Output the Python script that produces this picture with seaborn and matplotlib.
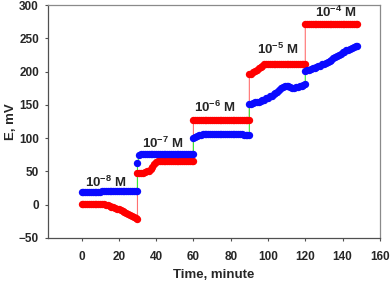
import numpy as np
import pandas as pd
import matplotlib
matplotlib.use("Agg")
import matplotlib.pyplot as plt
import seaborn as sns

# time grid (minutes) for each concentration step
t_1 = list(range(0, 31))
t_2 = list(range(30, 61))
t_3 = list(range(60, 91))
t_4 = list(range(90, 121))
t_5 = list(range(120, 149))

# red electrode
red_1 = [1, 1, 1, 1, 1, 1, 1, 1, 1, 1, 1, 1, 1, 0, -1, -2, -3, -4, -5, -6,
         -7, -8, -10, -11, -13, -14, -16, -17, -19, -20, -22]
red_2 = [47, 47, 48, 48, 49, 50, 51, 54, 57, 61, 64, 65, 66, 66, 66, 66, 66,
         66, 66, 66, 66, 66, 66, 66, 66, 66, 66, 66, 65.5, 65.5, 65]
red_3 = [127, 127, 127, 127, 127, 127, 127, 127, 127, 127, 127, 127, 127, 127,
         127, 127, 127, 127, 127, 127, 127, 127, 127, 127, 127, 127, 127, 127,
         127, 127, 127]
red_4 = [196, 197, 199, 201, 203, 205, 207, 209, 211, 212, 212, 212, 212, 212,
         212, 212, 212, 212, 212, 212, 212, 212, 212, 212, 212, 212, 212, 212,
         212, 212, 212]
red_5 = [271, 271, 271, 271, 271, 271, 271, 271, 271, 271, 271, 271, 271, 271,
         271, 271, 271, 271, 271, 271, 271, 271, 271, 271, 271, 271, 271, 271,
         271]

# blue electrode
blue_1 = [19, 19, 19, 19, 19, 19, 19, 19.5, 19.5, 19.5, 19.5, 20, 20, 20, 20,
          20, 20, 20, 20, 20, 20, 20.5, 20.5, 20.5, 20.5, 20.5, 21, 21, 21, 21, 21]
blue_2 = [62, 74, 76, 76, 76, 76, 76, 76, 76, 76, 76, 76, 76, 76, 76, 76, 76,
          76, 76, 76, 76, 76, 76, 76, 76, 76, 76, 76, 76.5, 76.5, 76.5]
blue_3 = [100, 102, 104, 105, 105.5, 106, 106, 106, 106, 106, 106, 106, 106,
          106, 106, 106, 106, 106, 106, 106, 106, 106, 106, 106, 106, 106, 106,
          105.5, 105.5, 105.5, 105.5]
blue_4 = [151, 152, 153, 154, 155, 155, 156, 157, 158, 160, 161, 163, 164, 166,
          168, 170, 172, 175, 177, 179, 179, 178, 177, 176, 176, 177, 177, 178,
          179, 180, 181]
blue_5 = [201, 202, 203, 204, 205, 206, 207, 208, 209, 211, 212, 213, 215, 216,
          218, 220, 222, 224, 225, 227, 229, 230, 232, 233, 234, 236, 237, 238,
          239]

conc_labels = ["-8", "-7", "-6", "-5", "-4"]
label_t = [13, 43.5, 71.5, 105, 136.5]
label_e = [33, 92, 147, 233, 289]

time = t_1 + t_2 + t_3 + t_4 + t_5
df = pd.DataFrame({
    "Time": time * 2,
    "E": red_1 + red_2 + red_3 + red_4 + red_5 + blue_1 + blue_2 + blue_3 + blue_4 + blue_5,
    "Electrode": ["red"] * len(time) + ["blue"] * len(time),
})

sns.set_style("ticks")
plt.rcParams["font.family"] = ["Liberation Sans", "DejaVu Sans"]
plt.rcParams["mathtext.fontset"] = "custom"
plt.rcParams["mathtext.rm"] = "Liberation Sans:bold"
plt.rcParams["mathtext.bf"] = "Liberation Sans:bold"

fig = plt.figure(figsize=(3.9, 2.85), dpi=100)
ax = fig.add_axes([0.123, 0.165, 0.851, 0.817])

styles = {"red": ("#ff7070", "#ff0000"), "blue": ("#33ee33", "#0a0aff")}
for name in ["red", "blue"]:
    sub = df[df["Electrode"] == name]
    line_c, mark_c = styles[name]
    sns.lineplot(data=sub, x="Time", y="E", estimator=None, sort=False,
                 color=line_c, linewidth=0.8, ax=ax, legend=False)
    sns.scatterplot(data=sub, x="Time", y="E", color=mark_c, s=28,
                    linewidth=0, ax=ax, legend=False, zorder=3)

for c, tx, ey in zip(conc_labels, label_t, label_e):
    ax.text(tx, ey, r"$10^{" + c + "}$ M", fontsize=9.5, fontweight="bold",
            ha="center", va="center")

ax.set_xlim(-18, 160)
ax.set_ylim(-50, 300)
ax.set_xticks(range(0, 161, 20))
ax.set_yticks(range(-50, 301, 50))
ax.tick_params(axis="both", direction="out", length=2.5, width=0.8,
               labelsize=8.5, color="#505050")
ax.tick_params(axis="x", pad=7)
ax.tick_params(axis="y", pad=4)
for lab in ax.get_xticklabels() + ax.get_yticklabels():
    lab.set_fontweight("bold")

ax.set_xlabel("Time, minute", fontsize=9.5, fontweight="bold")
ax.set_ylabel("E, mV", fontsize=9.5, fontweight="bold")
ax.xaxis.set_label_coords(0.5, -0.135)
ax.yaxis.set_label_coords(-0.092, 0.5)

for side in ["left", "bottom"]:
    ax.spines[side].set_color("#505050")
    ax.spines[side].set_linewidth(0.9)
for side in ["top", "right"]:
    ax.spines[side].set_visible(True)
    ax.spines[side].set_color("#8a8a8a")
    ax.spines[side].set_linewidth(0.9)

fig.savefig("out.png", dpi=100)
